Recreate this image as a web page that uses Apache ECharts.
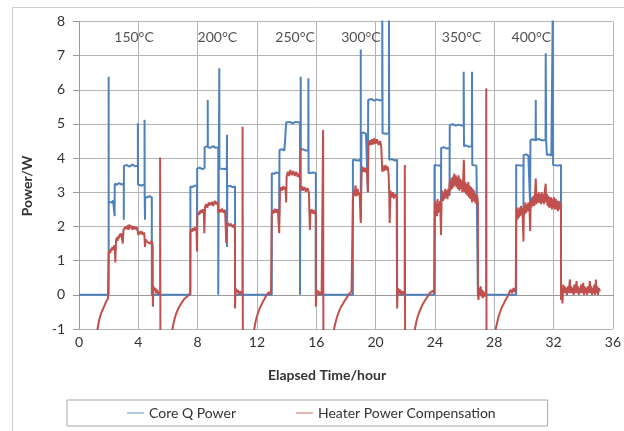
<!DOCTYPE html>
<html>
<head>
<meta charset="utf-8">
<script src="https://cdn.jsdelivr.net/npm/echarts@6/dist/echarts.min.js"></script>
<style>
  html, body { margin: 0; padding: 0; background: #fff; }
  #chart { width: 624px; height: 431px; }
</style>
</head>
<body>
<div id="chart"></div>
<script>
// Core Q power, one array per temperature step [hour, W]
const coreC1 = [[0,0],[2.0,0],[2.0,6.38],[2.0,2.72],[2.1,2.75],[2.2,2.7],[2.3,2.76],[2.4,2.72],[2.4,2.3],[2.41,3.25],[2.55,3.22],[2.7,3.27],[2.85,3.23],[3.02,3.25],[3.02,2.2],[3.03,3.77],[3.2,3.8],[3.4,3.75],[3.6,3.81],[3.8,3.76],[3.97,3.78],[3.97,5.02],[3.98,3.22],[4.1,3.25],[4.25,3.2],[4.42,3.23],[4.42,5.12],[4.43,2.87],[4.45,2.2],[4.46,2.86],[4.6,2.85],[4.75,2.89],[4.91,2.85],[4.91,0]];
const coreC2 = [[7.51,0],[7.51,3.17],[7.65,3.15],[7.8,3.2],[7.96,3.17],[7.96,1.3],[7.97,3.7],[8.15,3.72],[8.3,3.68],[8.47,3.7],[8.47,4.32],[8.6,4.3],[8.68,4.35],[8.68,5.7],[8.69,4.32],[8.85,4.3],[9.05,4.35],[9.2,4.3],[9.39,4.32],[9.39,0],[9.43,0],[9.46,6.63],[9.47,3.7],[9.6,3.72],[9.78,3.68],[9.97,3.7],[9.98,4.68],[9.98,1.4],[10.0,3.17],[10.2,3.19],[10.35,3.15],[10.52,3.17],[10.52,0]];
const coreC3 = [[13.0,0],[13.0,3.56],[13.15,3.54],[13.3,3.58],[13.5,3.56],[13.5,2.3],[13.52,4.24],[13.7,4.26],[13.85,4.22],[13.97,4.24],[13.97,5.04],[14.2,5.06],[14.4,5.02],[14.6,5.06],[14.9,5.04],[14.9,0],[14.93,0],[14.95,6.38],[14.96,4.24],[15.1,4.26],[15.3,4.22],[15.46,4.24],[15.47,6.34],[15.48,3.56],[15.6,3.54],[15.8,3.58],[15.97,3.56],[15.97,0]];
const coreC4 = [[18.47,0],[18.47,3.95],[18.6,3.97],[18.8,3.93],[19.0,3.95],[19.0,7.18],[19.0,2.2],[19.05,4.73],[19.2,4.75],[19.35,4.71],[19.48,4.73],[19.48,3.0],[19.5,5.7],[19.7,5.73],[19.9,5.68],[20.1,5.72],[20.3,5.69],[20.45,5.7],[20.45,8.5],[20.47,4.73],[20.6,4.75],[20.75,4.71],[20.9,4.73],[20.9,8.5],[20.92,3.95],[21.1,3.97],[21.3,3.93],[21.45,3.95],[21.45,0]];
const coreC5 = [[23.97,0],[23.97,3.8],[24.1,3.82],[24.25,3.78],[24.41,3.8],[24.41,1.8],[24.42,4.3],[24.6,4.32],[24.8,4.28],[24.99,4.3],[24.99,2.9],[25.0,4.97],[25.2,4.99],[25.4,4.95],[25.6,4.98],[25.8,4.95],[25.94,4.97],[25.94,6.53],[25.96,4.35],[26.1,4.37],[26.3,4.33],[26.49,4.35],[26.5,6.53],[26.52,3.8],[26.65,3.82],[26.8,3.78],[26.9,3.8],[26.9,0]];
const coreC6 = [[29.48,0],[29.48,3.8],[29.6,3.82],[29.8,3.78],[29.97,3.8],[29.97,2.3],[29.98,4.09],[30.15,4.11],[30.3,4.07],[30.42,4.09],[30.42,2.6],[30.44,4.53],[30.6,4.55],[30.79,4.52],[30.8,5.7],[30.81,4.53],[31.0,4.56],[31.2,4.52],[31.46,4.53],[31.47,7.07],[31.5,4.53],[31.55,4.53],[31.55,4.09],[31.7,4.11],[31.85,4.07],[31.95,4.09],[31.95,8.5],[31.97,3.8],[32.1,3.82],[32.3,3.78],[32.5,3.8],[32.5,0],[32.6,0]];

// Heater power compensation [hour, W]
const heaterC1 = [[1.15,-1.4],[1.25,-1.0],[1.35,-0.75],[1.45,-0.6],[1.55,-0.48],[1.65,-0.38],[1.75,-0.28],[1.8,-0.25],[1.85,-0.18],[1.9,-0.2],[1.95,-0.12],[2.0,-0.1],[2.0,1.2],[2.05,1.3],[2.1,1.22],[2.15,1.35],[2.2,1.28],[2.25,1.4],[2.3,1.32],[2.38,1.45],[2.42,1.38],[2.45,0.95],[2.5,1.6],[2.55,1.68],[2.6,1.58],[2.65,1.72],[2.7,1.65],[2.75,1.78],[2.8,1.7],[2.85,1.8],[2.9,1.75],[2.95,1.5],[3.0,1.9],[3.05,1.95],[3.1,1.88],[3.15,2.0],[3.2,1.92],[3.3,2.04],[3.35,1.9],[3.4,2.05],[3.5,1.95],[3.55,2.02],[3.6,1.9],[3.7,2.0],[3.8,1.92],[3.9,1.98],[3.95,1.88],[4.0,1.75],[4.05,1.85],[4.1,1.78],[4.2,1.86],[4.3,1.76],[4.4,1.82],[4.45,1.4],[4.5,1.62],[4.6,1.55],[4.7,1.6],[4.8,1.5],[4.9,1.58],[4.97,1.45],[4.98,-0.35],[5.02,0.25],[5.08,0.12],[5.15,0.2],[5.2,0.05],[5.28,0.15],[5.35,0.02],[5.42,0.08],[5.47,0.0],[5.47,4.02],[5.49,-1.5]];
const heaterC2 = [[6.2,-1.4],[6.3,-1.0],[6.4,-0.78],[6.5,-0.62],[6.6,-0.5],[6.7,-0.4],[6.8,-0.32],[6.9,-0.25],[7.0,-0.2],[7.1,-0.12],[7.2,-0.1],[7.3,-0.05],[7.4,-0.02],[7.5,0.05],[7.51,1.8],[7.56,1.92],[7.62,1.85],[7.7,1.95],[7.78,1.88],[7.85,1.98],[7.92,1.9],[7.96,1.27],[7.98,2.3],[8.05,2.42],[8.12,2.35],[8.2,2.48],[8.28,2.4],[8.35,2.5],[8.42,2.42],[8.45,1.8],[8.5,2.58],[8.58,2.65],[8.65,2.55],[8.75,2.7],[8.85,2.62],[8.95,2.72],[9.05,2.6],[9.15,2.75],[9.25,2.65],[9.35,2.72],[9.4,2.4],[9.48,2.5],[9.55,2.42],[9.65,2.52],[9.75,2.4],[9.85,2.48],[9.93,1.51],[9.96,2.0],[10.05,2.1],[10.15,2.02],[10.25,2.08],[10.35,1.98],[10.45,2.05],[10.52,1.9],[10.52,-0.4],[10.56,0.2],[10.62,0.08],[10.7,0.15],[10.78,0.02],[10.85,0.1],[10.95,0.05],[11.02,0.0],[11.03,4.92],[11.05,-1.5]];
const heaterC3 = [[11.7,-1.4],[11.82,-1.0],[11.9,-0.8],[12.0,-0.62],[12.1,-0.5],[12.2,-0.38],[12.3,-0.3],[12.4,-0.2],[12.5,-0.15],[12.6,-0.05],[12.7,0.0],[12.8,0.08],[12.88,0.02],[12.95,0.1],[13.0,2.35],[13.05,2.48],[13.12,2.38],[13.2,2.52],[13.28,2.4],[13.35,2.5],[13.42,2.42],[13.5,1.8],[13.55,3.0],[13.62,3.15],[13.7,3.05],[13.78,3.18],[13.85,3.08],[13.92,3.15],[13.97,2.7],[14.0,3.45],[14.08,3.6],[14.15,3.48],[14.25,3.65],[14.35,3.5],[14.45,3.62],[14.55,3.48],[14.65,3.6],[14.75,3.45],[14.85,3.55],[14.9,3.4],[14.93,4.3],[14.95,3.05],[15.02,3.18],[15.1,3.05],[15.2,3.15],[15.3,3.02],[15.4,3.12],[15.5,3.0],[15.57,1.9],[15.6,2.4],[15.68,2.5],[15.75,2.38],[15.82,2.48],[15.9,2.36],[15.97,2.42],[15.97,-0.35],[16.01,0.15],[16.07,0.05],[16.14,0.12],[16.2,0.0],[16.28,0.08],[16.36,0.02],[16.45,0.05],[16.46,4.82],[16.48,-1.5]];
const heaterC4 = [[17.1,-1.4],[17.2,-1.0],[17.3,-0.8],[17.4,-0.65],[17.5,-0.52],[17.6,-0.42],[17.7,-0.33],[17.8,-0.26],[17.9,-0.18],[18.0,-0.12],[18.1,-0.05],[18.2,0.02],[18.3,0.0],[18.38,0.1],[18.45,0.05],[18.47,2.8],[18.52,3.05],[18.58,2.9],[18.65,3.2],[18.7,2.88],[18.78,3.1],[18.85,2.92],[18.92,3.0],[19.0,2.1],[19.05,3.55],[19.12,3.75],[19.2,3.6],[19.28,3.72],[19.35,3.58],[19.42,3.7],[19.48,3.0],[19.52,4.35],[19.6,4.52],[19.68,4.38],[19.76,4.55],[19.84,4.4],[19.92,4.58],[20.0,4.42],[20.1,4.55],[20.2,4.38],[20.3,4.5],[20.38,4.35],[20.45,3.6],[20.5,3.78],[20.58,3.62],[20.66,3.8],[20.74,3.65],[20.82,3.75],[20.88,3.5],[20.92,2.95],[20.95,2.1],[21.0,3.05],[21.08,2.85],[21.16,3.0],[21.24,2.82],[21.32,2.95],[21.42,2.85],[21.45,-0.4],[21.5,0.2],[21.58,0.05],[21.66,0.15],[21.74,0.0],[21.82,0.1],[21.9,0.02],[21.96,0.08],[21.97,3.8],[21.99,-1.5]];
const heaterC5 = [[22.5,-1.4],[22.65,-1.0],[22.75,-0.78],[22.85,-0.62],[22.95,-0.5],[23.05,-0.4],[23.15,-0.3],[23.25,-0.25],[23.35,-0.15],[23.45,-0.1],[23.55,-0.02],[23.65,0.05],[23.75,0.0],[23.85,0.12],[23.95,0.05],[23.99,2.3],[24.02,2.75],[24.06,2.35],[24.1,2.65],[24.14,2.3],[24.18,2.8],[24.22,2.4],[24.26,2.6],[24.3,2.45],[24.35,2.75],[24.41,1.75],[24.45,2.8],[24.5,3.05],[24.55,2.75],[24.6,3.0],[24.65,2.8],[24.7,3.1],[24.75,2.85],[24.8,3.05],[24.85,2.8],[24.9,3.1],[24.95,2.9],[25.0,3.3],[25.05,3.05],[25.1,3.4],[25.15,3.1],[25.2,3.45],[25.25,3.15],[25.3,3.55],[25.35,3.2],[25.4,3.5],[25.45,3.15],[25.5,3.45],[25.55,3.1],[25.6,3.5],[25.65,3.05],[25.7,3.4],[25.75,3.1],[25.8,3.35],[25.85,3.0],[25.9,3.3],[25.95,3.95],[26.0,3.0],[26.05,3.3],[26.1,2.95],[26.15,3.25],[26.2,2.9],[26.25,3.3],[26.3,2.85],[26.35,3.2],[26.4,2.8],[26.45,3.15],[26.5,2.7],[26.55,3.1],[26.6,2.75],[26.65,3.05],[26.7,2.7],[26.75,2.95],[26.8,2.65],[26.85,2.9],[26.9,2.7],[26.9,0.0],[26.94,-0.15],[26.98,0.2],[27.03,0.0],[27.08,0.25],[27.13,-0.05],[27.18,0.15],[27.23,-0.1],[27.28,0.1],[27.33,-0.05],[27.4,0.05],[27.45,-0.05],[27.46,6.04],[27.48,-1.5]];
const heaterC6 = [[28.0,-1.4],[28.1,-1.0],[28.2,-0.8],[28.3,-0.62],[28.4,-0.5],[28.5,-0.38],[28.6,-0.3],[28.7,-0.2],[28.8,-0.12],[28.9,-0.05],[29.0,0.0],[29.1,0.15],[29.2,0.05],[29.3,0.2],[29.4,0.08],[29.45,0.15],[29.48,2.2],[29.52,2.55],[29.56,2.2],[29.6,2.5],[29.65,2.25],[29.7,2.55],[29.75,2.3],[29.8,2.6],[29.85,2.35],[29.9,2.55],[29.97,1.56],[30.0,2.6],[30.05,2.35],[30.1,2.7],[30.15,2.4],[30.2,2.65],[30.25,2.45],[30.3,2.7],[30.38,2.5],[30.42,1.87],[30.46,2.75],[30.5,2.55],[30.55,2.85],[30.6,2.6],[30.65,2.9],[30.7,2.6],[30.75,2.95],[30.8,3.4],[30.85,2.65],[30.9,2.95],[30.95,2.7],[31.0,3.0],[31.05,2.7],[31.1,2.95],[31.15,2.65],[31.2,3.0],[31.25,2.7],[31.3,2.95],[31.35,2.65],[31.4,3.0],[31.47,3.25],[31.5,2.7],[31.55,2.95],[31.6,2.6],[31.65,2.9],[31.7,2.55],[31.75,2.85],[31.8,2.55],[31.85,2.85],[31.9,2.5],[31.95,2.8],[32.0,2.55],[32.05,2.85],[32.1,2.5],[32.15,2.8],[32.2,2.5],[32.25,2.75],[32.3,2.45],[32.35,2.75],[32.4,2.5],[32.45,2.7],[32.5,2.5],[32.5,-0.15],[32.55,0.2],[32.6,-0.25],[32.65,0.3],[32.7,0.05],[32.75,0.25],[32.8,0.05],[32.85,0.2],[32.9,0.0],[32.95,0.25],[33.0,0.05],[33.05,0.2],[33.1,0.45],[33.15,0.05],[33.2,0.25],[33.25,0.05],[33.3,0.2],[33.35,0.0],[33.4,0.3],[33.45,0.05],[33.5,0.2],[33.55,0.4],[33.6,0.05],[33.65,0.25],[33.7,0.0],[33.75,0.2],[33.8,0.05],[33.85,0.3],[33.9,0.05],[33.95,0.2],[34.0,0.35],[34.05,0.0],[34.1,0.25],[34.15,0.05],[34.2,0.2],[34.25,0.0],[34.3,0.25],[34.35,0.05],[34.4,0.2],[34.45,0.4],[34.5,0.05],[34.55,0.25],[34.6,0.0],[34.65,0.2],[34.7,0.05],[34.75,0.3],[34.8,0.0],[34.85,0.45],[34.9,0.05],[34.95,0.25],[35.0,0.0],[35.05,0.2],[35.13,0.1]];

// temperature annotations
const tempLabels = ['150°C', '200°C', '250°C', '300°C', '350°C', '400°C'];
const tempHours = [3.71, 9.33, 14.57, 19.01, 25.8, 30.5];

const corePower = [].concat(coreC1, coreC2, coreC3, coreC4, coreC5, coreC6);
const heaterPower = [].concat(heaterC1, heaterC2, heaterC3, heaterC4, heaterC5, heaterC6);

const font = 'Lato, "Open Sans", sans-serif';
const gridColor = '#b4b4b4';
const lineIcon = 'path://M0,0 L20,0 L20,1 L0,1 Z';

const chart = echarts.init(document.getElementById('chart'));
chart.setOption({
  animation: false,
  backgroundColor: '#fff',
  textStyle: { fontFamily: font },
  grid: { left: 79, right: 10, top: 21.4, bottom: 102 },
  xAxis: {
    type: 'value', min: 0, max: 36, interval: 4,
    axisLine: { lineStyle: { color: '#9a9a9a' } },
    axisTick: { show: false },
    axisLabel: { fontSize: 14, color: '#333', margin: 6, fontFamily: font },
    splitLine: { show: true, lineStyle: { color: gridColor } }
  },
  yAxis: {
    type: 'value', min: -1, max: 8, interval: 1,
    axisLine: { show: true, onZero: false, lineStyle: { color: '#9a9a9a' } },
    axisTick: { show: true, length: 6, lineStyle: { color: '#9a9a9a' } },
    axisLabel: { fontSize: 14, color: '#333', margin: 14, fontFamily: font },
    splitLine: { show: true, lineStyle: { color: gridColor } }
  },
  legend: {
    left: 67, top: 400,
    padding: [6, 52, 6, 60],
    itemGap: 60, itemWidth: 17, itemHeight: 2,
    borderColor: '#a8a8a8', borderWidth: 1, borderRadius: 0,
    backgroundColor: '#fff',
    textStyle: { fontSize: 14, color: '#333', fontFamily: font },
    data: [
      { name: 'Core Q Power', icon: lineIcon },
      { name: 'Heater Power Compensation', icon: lineIcon }
    ]
  },
  graphic: [
    { type: 'rect', z: -10, shape: { x: 12.5, y: 7.5, width: 640, height: 440 },
      style: { fill: 'none', stroke: '#cfcfcf', lineWidth: 1 } },
    { type: 'text', x: 27, y: 186, rotation: Math.PI / 2,
      style: { text: 'Power/W', font: 'bold 14px ' + font, fill: '#333', align: 'center', verticalAlign: 'middle' } },
    { type: 'text', x: 327, y: 375,
      style: { text: 'Elapsed Time/hour', font: 'bold 14px ' + font, fill: '#333', align: 'center', verticalAlign: 'middle' } }
  ],
  series: [
    {
      name: 'Core Q Power', type: 'line', data: corePower,
      symbol: 'none', color: '#4f81bd',
      lineStyle: { width: 2, color: '#4f81bd' }
    },
    {
      name: 'Heater Power Compensation', type: 'line', data: heaterPower,
      symbol: 'none', color: '#c0504d',
      lineStyle: { width: 2, color: '#c0504d' }
    },
    {
      name: 'temps', type: 'scatter', symbolSize: 0, silent: true,
      data: tempHours.map((t, i) => [t, 7.52]),
      label: {
        show: true, position: 'inside', fontSize: 14, color: '#262626', fontFamily: font,
        formatter: p => tempLabels[p.dataIndex]
      }
    }
  ]
});
</script>
</body>
</html>
